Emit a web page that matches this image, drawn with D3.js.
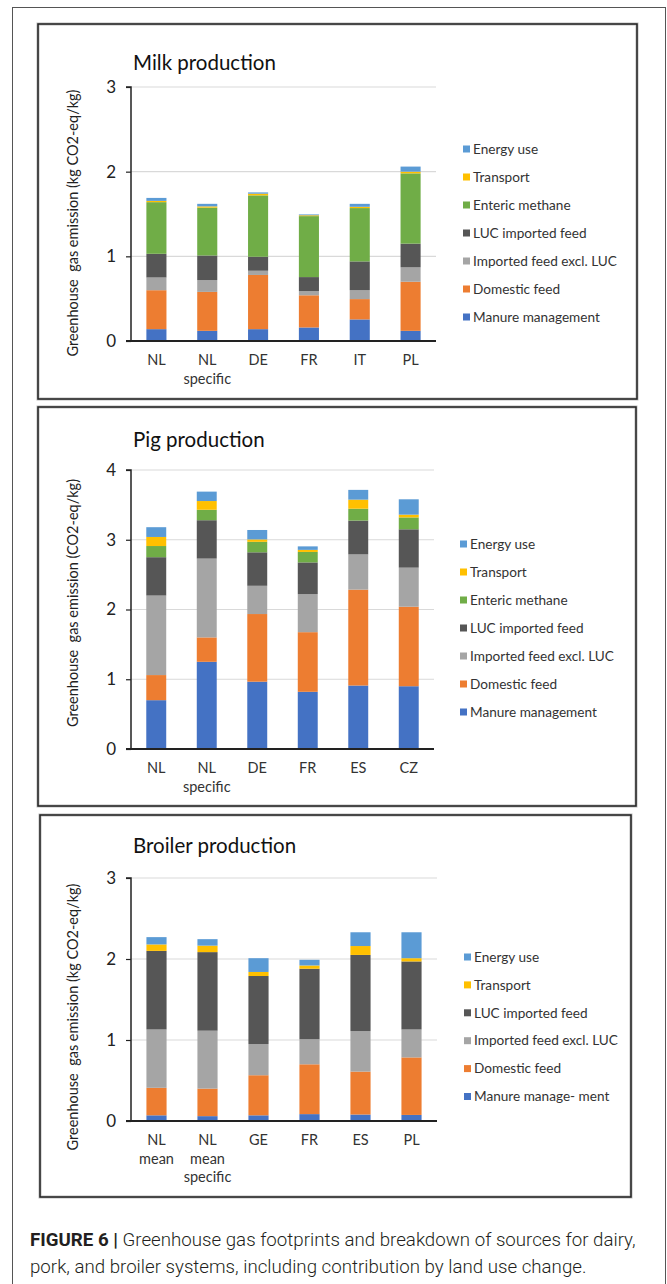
<!DOCTYPE html>
<html>
<head>
<meta charset="utf-8">
<script src="https://cdn.jsdelivr.net/npm/d3@7"></script>
<style>
  html, body { margin: 0; padding: 0; background: #fff; }
  svg { display: block; }
</style>
</head>
<body>
<svg id="chart" width="667" height="1284"></svg>
<script>
// ---------- DATA ----------
const sourceKeys = ["manure", "domestic", "imported", "luc", "enteric", "transport", "energy"];
const sourceColors = ["#4472C4", "#ED7D31", "#A5A5A5", "#565656", "#70AD47", "#FFC000", "#5B9BD5"];

// Milk production
const milkTitle = "Milk production";
const milkAxisTitle = "Greenhouse  gas emission (kg CO2-eq/kg)";
const milkCategories = ["NL", "NL specific", "DE", "FR", "IT", "PL"];
const milkTicks = [0, 1, 2, 3];
const milkManure    = [0.14, 0.12, 0.14, 0.16, 0.255, 0.12];
const milkDomestic  = [0.46, 0.46, 0.64, 0.38, 0.24, 0.58];
const milkImported  = [0.15, 0.14, 0.05, 0.05, 0.105, 0.17];
const milkLUC       = [0.28, 0.29, 0.165, 0.165, 0.34, 0.28];
const milkEnteric   = [0.61, 0.565, 0.725, 0.72, 0.63, 0.83];
const milkTransport = [0.015, 0.015, 0.02, 0.01, 0.015, 0.02];
const milkEnergy    = [0.035, 0.03, 0.015, 0.01, 0.035, 0.06];
const milkLegend = ["Energy use", "Transport", "Enteric methane", "LUC imported feed",
                    "Imported feed excl. LUC", "Domestic feed", "Manure management"];

// Pig production
const pigTitle = "Pig production";
const pigAxisTitle = "Greenhouse  gas emission (CO2-eq/kg)";
const pigCategories = ["NL", "NL specific", "DE", "FR", "ES", "CZ"];
const pigTicks = [0, 1, 2, 3, 4];
const pigManure    = [0.70, 1.25, 0.965, 0.82, 0.91, 0.90];
const pigDomestic  = [0.36, 0.35, 0.97, 0.855, 1.375, 1.14];
const pigImported  = [1.14, 1.13, 0.405, 0.545, 0.505, 0.56];
const pigLUC       = [0.55, 0.55, 0.48, 0.455, 0.485, 0.55];
const pigEnteric   = [0.16, 0.15, 0.15, 0.15, 0.17, 0.17];
const pigTransport = [0.13, 0.125, 0.035, 0.03, 0.13, 0.04];
const pigEnergy    = [0.14, 0.135, 0.135, 0.05, 0.14, 0.22];
const pigLegend = ["Energy use", "Transport", "Enteric methane", "LUC imported feed",
                   "Imported feed excl. LUC", "Domestic feed", "Manure management"];

// Broiler production
const broilerTitle = "Broiler production";
const broilerAxisTitle = "Greenhouse  gas emission (kg CO2-eq/kg)";
const broilerCategories = ["NL mean", "NL mean specific", "GE", "FR", "ES", "PL"];
const broilerTicks = [0, 1, 2, 3];
const broilerManure    = [0.07, 0.06, 0.07, 0.085, 0.08, 0.075];
const broilerDomestic  = [0.34, 0.34, 0.495, 0.615, 0.53, 0.71];
const broilerImported  = [0.72, 0.715, 0.385, 0.31, 0.50, 0.345];
const broilerLUC       = [0.97, 0.97, 0.84, 0.87, 0.94, 0.84];
const broilerTransport = [0.08, 0.08, 0.05, 0.04, 0.11, 0.04];
const broilerEnergy    = [0.09, 0.08, 0.17, 0.07, 0.17, 0.32];
const broilerLegend = ["Energy use", "Transport", "LUC imported feed",
                       "Imported feed excl. LUC", "Domestic feed", "Manure manage- ment"];

const captionBold = "FIGURE 6 |";
const captionLine1 = " Greenhouse gas footprints and breakdown of sources for dairy,";
const captionLine2 = "pork, and broiler systems, including contribution by land use change.";

// ---------- DRAW ----------
const svg = d3.select("#chart");
const FONT = "Lato, 'Open Sans', sans-serif";

// outer frame
svg.append("rect").attr("x", 12.5).attr("y", 7.5).attr("width", 653).attr("height", 1290)
  .attr("fill", "none").attr("stroke", "#555").attr("stroke-width", 1);

function buildRows(categories, seriesByKey) {
  return categories.map((c, i) => {
    const row = { cat: c };
    sourceKeys.forEach(k => { row[k] = seriesByKey[k] ? seriesByKey[k][i] : 0; });
    return row;
  });
}

function drawPanel(p) {
  const g = svg.append("g");
  // panel box
  g.append("rect").attr("x", p.box[0]).attr("y", p.box[1])
    .attr("width", p.box[2] - p.box[0]).attr("height", p.box[3] - p.box[1])
    .attr("fill", "none").attr("stroke", "#bbb").attr("stroke-width", 3);
  g.append("rect").attr("x", p.box[0]).attr("y", p.box[1])
    .attr("width", p.box[2] - p.box[0]).attr("height", p.box[3] - p.box[1])
    .attr("fill", "none").attr("stroke", "#222").attr("stroke-width", 1.5);

  const x = d3.scaleBand().domain(p.categories).range([p.x0, p.x1])
    .paddingInner(0.605).paddingOuter(0.3025);
  const y = d3.scaleLinear().domain([0, d3.max(p.ticks)]).range([p.y0, p.yTop]);

  // gridlines
  g.append("g").selectAll("line").data(p.ticks.filter(t => t > 0)).join("line")
    .attr("x1", p.x0).attr("x2", p.x1)
    .attr("y1", d => y(d)).attr("y2", d => y(d))
    .attr("stroke", "#d9d9d9").attr("stroke-width", 1.2);

  // stacked bars
  const rows = buildRows(p.categories, p.series);
  const keys = sourceKeys.filter(k => p.series[k]);
  const stacked = d3.stack().keys(keys)(rows);
  g.append("g").selectAll("g").data(stacked).join("g")
    .attr("fill", d => sourceColors[sourceKeys.indexOf(d.key)])
    .selectAll("rect").data(d => d).join("rect")
    .attr("x", d => x(d.data.cat))
    .attr("width", x.bandwidth())
    .attr("y", d => y(d[1]))
    .attr("height", d => y(d[0]) - y(d[1]));

  // y axis
  const yAxis = d3.axisLeft(y).tickValues(p.ticks).tickFormat(d3.format("d"))
    .tickSize(5).tickPadding(10);
  const ya = g.append("g").attr("transform", `translate(${p.x0},0)`).call(yAxis);
  ya.select(".domain").attr("stroke", "#222").attr("stroke-width", 1.5)
    .attr("d", `M-5,${y(d3.max(p.ticks))}H0V${p.y0}`);
  ya.selectAll(".tick line").attr("stroke", "#222").attr("stroke-width", 1.2);
  ya.selectAll(".tick text").attr("font-family", FONT).attr("font-size", 17).attr("fill", "#222");

  // x axis line
  g.append("line").attr("x1", p.x0 - 5).attr("x2", p.x1).attr("y1", p.y0).attr("y2", p.y0)
    .attr("stroke", "#222").attr("stroke-width", 1.8);

  // category labels
  const xl = g.append("g");
  p.categories.forEach(c => {
    const lines = c.split(" ");
    const t = xl.append("text").attr("text-anchor", "middle")
      .attr("font-family", FONT).attr("font-size", 14.5).attr("fill", "#333");
    lines.forEach((ln, i) => {
      t.append("tspan").attr("x", x(c) + x.bandwidth() / 2)
        .attr("y", p.y0 + 24 + i * 18.5).text(ln);
    });
  });

  // title
  g.append("text").attr("x", p.x0 + 2).attr("y", p.titleY)
    .attr("font-family", FONT).attr("font-size", 20.5).attr("fill", "#111").text(p.title);

  // y axis title
  g.append("text").attr("transform", `translate(${p.axisTitleX},${p.axisTitleY}) rotate(-90)`)
    .attr("text-anchor", "middle").attr("font-family", FONT).attr("font-size", 14.5)
    .attr("fill", "#222").style("white-space", "pre").attr("xml:space", "preserve")
    .text(p.axisTitle);

  // legend
  const legKeys = keys.slice().reverse();
  const lg = g.append("g");
  p.legend.forEach((label, i) => {
    const k = legKeys[i];
    const yy = p.legendY + i * p.legendStep;
    lg.append("rect").attr("x", p.legendX).attr("y", yy - 3.5).attr("width", 7).attr("height", 7)
      .attr("fill", sourceColors[sourceKeys.indexOf(k)]);
    lg.append("text").attr("x", p.legendX + 10).attr("y", yy).attr("dy", "0.35em")
      .attr("font-family", FONT).attr("font-size", 13.6).attr("fill", "#333").text(label);
  });
}

drawPanel({
  box: [38, 24, 637, 399],
  title: milkTitle, titleY: 70,
  axisTitle: milkAxisTitle, axisTitleX: 78, axisTitleY: 223,
  categories: milkCategories, ticks: milkTicks,
  series: { manure: milkManure, domestic: milkDomestic, imported: milkImported, luc: milkLUC,
            enteric: milkEnteric, transport: milkTransport, energy: milkEnergy },
  x0: 131, x1: 436, y0: 341, yTop: 87,
  legend: milkLegend, legendX: 463, legendY: 149, legendStep: 28
});

drawPanel({
  box: [38, 407, 636, 806],
  title: pigTitle, titleY: 447,
  axisTitle: pigAxisTitle, axisTitleX: 78, axisTitleY: 603,
  categories: pigCategories, ticks: pigTicks,
  series: { manure: pigManure, domestic: pigDomestic, imported: pigImported, luc: pigLUC,
            enteric: pigEnteric, transport: pigTransport, energy: pigEnergy },
  x0: 131, x1: 434, y0: 749, yTop: 470,
  legend: pigLegend, legendX: 460, legendY: 544, legendStep: 28
});

drawPanel({
  box: [40, 815, 631, 1197],
  title: broilerTitle, titleY: 853,
  axisTitle: broilerAxisTitle, axisTitleX: 78, axisTitleY: 1017,
  categories: broilerCategories, ticks: broilerTicks,
  series: { manure: broilerManure, domestic: broilerDomestic, imported: broilerImported,
            luc: broilerLUC, transport: broilerTransport, energy: broilerEnergy },
  x0: 131, x1: 437, y0: 1121, yTop: 878,
  legend: broilerLegend, legendX: 464, legendY: 957, legendStep: 27.9
});

// caption
const cap = svg.append("text").attr("font-family", "Roboto, 'Liberation Sans', sans-serif")
  .attr("font-size", 18.7).attr("fill", "#231f20");
const l1 = cap.append("tspan").attr("x", 30).attr("y", 1246);
l1.append("tspan").attr("font-weight", "bold").text(captionBold);
l1.append("tspan").attr("font-weight", 300).text(captionLine1);
cap.append("tspan").attr("x", 30).attr("y", 1273).attr("font-weight", 300).text(captionLine2);
</script>
</body>
</html>
